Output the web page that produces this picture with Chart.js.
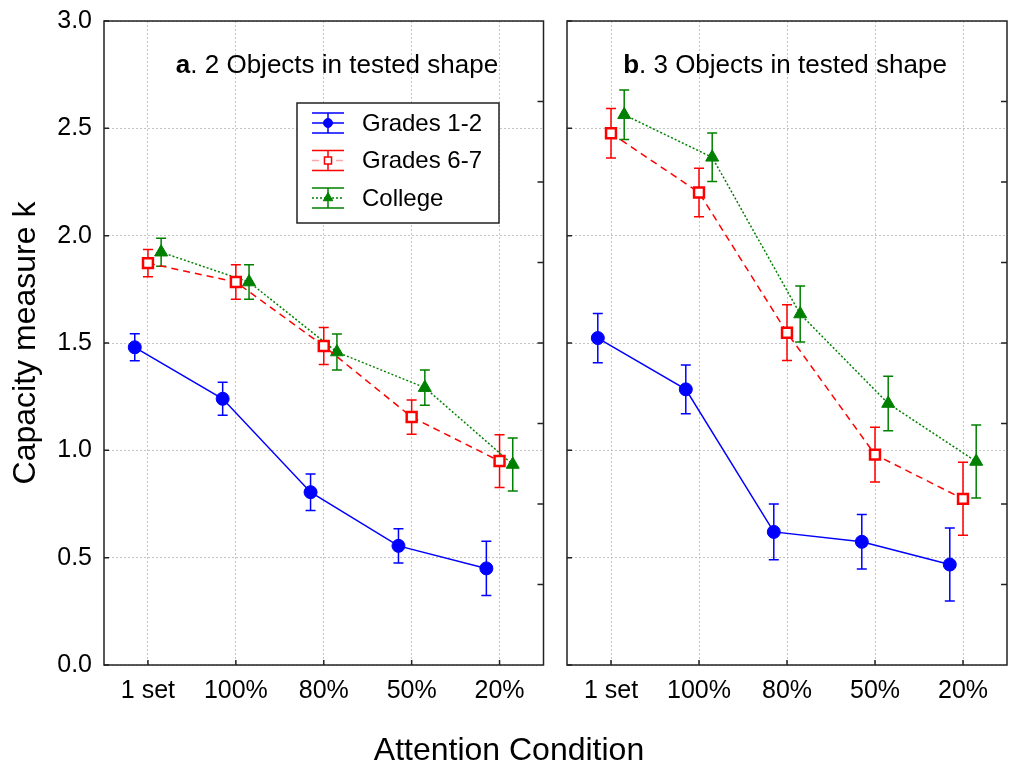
<!DOCTYPE html>
<html>
<head>
<meta charset="utf-8">
<title>Capacity measure k by attention condition</title>
<script src="https://cdn.jsdelivr.net/npm/chart.js@4.4.1/dist/chart.umd.min.js"></script>
<style>
    body { margin: 0; background: #fff; }
    #wrap { position: relative; width: 1028px; height: 765px; font-family: "Liberation Sans", Arial, sans-serif; color: #000; }
    canvas { position: absolute; top: 0; }
    #chartA { left: 0; }
    #chartB { left: 556px; }
    .ptitle { position: absolute; top: 51px; width: 400px; text-align: center; font-size: 26px; line-height: 26px; }
    #xtitle { position: absolute; left: 259px; top: 733px; width: 500px; text-align: center; font-size: 32px; line-height: 32px; }
</style>
</head>
<body>
<div id="wrap">
    <canvas id="chartA" width="553" height="765"></canvas>
    <canvas id="chartB" width="472" height="765"></canvas>
    <div class="ptitle" style="left:137px"><b>a</b>. 2 Objects in tested shape</div>
    <div class="ptitle" style="left:585px"><b>b</b>. 3 Objects in tested shape</div>
    <div id="xtitle">Attention Condition</div>
</div>
<script>
// Categories and tick values
const conditions = ['1 set', '100%', '80%', '50%', '20%'];
const groups = ['Grades 1-2', 'Grades 6-7', 'College'];
const yTicks = [0, 0.5, 1.0, 1.5, 2.0, 2.5, 3.0];
const rightTicks = [0.375, 0.75, 1.125, 1.5, 1.875, 2.25, 2.625];

// Panel a: 2 objects in tested shape (mean and error half-length)
const aGrades12 = [1.48, 1.24, 0.805, 0.555, 0.45];
const aGrades12Err = [0.063, 0.077, 0.085, 0.08, 0.126];
const aGrades67 = [1.872, 1.784, 1.486, 1.155, 0.95];
const aGrades67Err = [0.063, 0.08, 0.086, 0.08, 0.123];
const aCollege = [1.923, 1.784, 1.458, 1.292, 0.934];
const aCollegeErr = [0.065, 0.08, 0.084, 0.082, 0.124];

// Panel b: 3 objects in tested shape
const bGrades12 = [1.523, 1.284, 0.62, 0.574, 0.468];
const bGrades12Err = [0.115, 0.113, 0.13, 0.127, 0.17];
const bGrades67 = [2.477, 2.201, 1.548, 0.98, 0.774];
const bGrades67Err = [0.115, 0.113, 0.13, 0.127, 0.17];
const bCollege = [2.563, 2.365, 1.635, 1.218, 0.948];
const bCollegeErr = [0.115, 0.113, 0.13, 0.127, 0.17];

// Look of each group (shift = horizontal offset in category units)
const styles = [
    { color: '#0000ff', dash: [], pointStyle: 'circle', radius: 6.5, fill: '#0000ff', pointBorder: 1, shift: -0.15 },
    { color: '#ff0000', dash: [7, 5], pointStyle: 'rect', radius: 7, fill: '#ffffff', pointBorder: 2.5, shift: 0 },
    { color: '#008000', dash: [2, 2], pointStyle: 'triangle', radius: 7.5, fill: '#008000', pointBorder: 1, shift: 0.15 }
];

Chart.defaults.font.family = '"Liberation Sans", Arial, sans-serif';
Chart.defaults.color = '#000';

function buildDatasets(values, errors) {
    return values.map((vals, g) => {
        const st = styles[g];
        return {
            label: groups[g],
            data: vals.map((v, i) => ({ x: i + st.shift, y: v })),
            errors: errors[g],
            borderColor: st.color,
            borderWidth: 1.5,
            borderDash: st.dash,
            backgroundColor: st.fill,
            pointStyle: st.pointStyle,
            pointRadius: st.radius,
            pointBackgroundColor: st.fill,
            pointBorderColor: st.color,
            pointBorderWidth: st.pointBorder,
            tension: 0,
            fill: false
        };
    });
}

// Vertical error bars with caps, drawn under the markers
const errorBarPlugin = {
    id: 'errorBars',
    beforeDatasetsDraw(chart) {
        const { ctx } = chart;
        const ys = chart.scales.y;
        chart.data.datasets.forEach((ds, di) => {
            const meta = chart.getDatasetMeta(di);
            ctx.save();
            ctx.strokeStyle = ds.borderColor;
            ctx.lineWidth = 1.5;
            ctx.beginPath();
            meta.data.forEach((pt, i) => {
                const v = ds.data[i].y;
                const e = ds.errors[i];
                const top = ys.getPixelForValue(v + e);
                const bot = ys.getPixelForValue(v - e);
                ctx.moveTo(pt.x, top); ctx.lineTo(pt.x, bot);
                ctx.moveTo(pt.x - 5, top); ctx.lineTo(pt.x + 5, top);
                ctx.moveTo(pt.x - 5, bot); ctx.lineTo(pt.x + 5, bot);
            });
            ctx.stroke();
            ctx.restore();
        });
    }
};

// Plot frame and the short inward tick marks
const framePlugin = {
    id: 'frame',
    beforeDatasetsDraw(chart) {
        const { ctx, chartArea: a, scales } = chart;
        ctx.save();
        ctx.strokeStyle = '#222';
        ctx.lineWidth = 1.5;
        ctx.strokeRect(a.left, a.top, a.right - a.left, a.bottom - a.top);
        ctx.beginPath();
        yTicks.forEach(v => {
            const y = scales.y.getPixelForValue(v);
            ctx.moveTo(a.left, y); ctx.lineTo(a.left + 5, y);
        });
        rightTicks.forEach(v => {
            const y = scales.y.getPixelForValue(v);
            ctx.moveTo(a.right, y); ctx.lineTo(a.right - 6, y);
        });
        conditions.forEach((c, i) => {
            const x = scales.x.getPixelForValue(i);
            ctx.moveTo(x, a.bottom); ctx.lineTo(x, a.bottom - 5);
        });
        ctx.stroke();
        ctx.restore();
    }
};

// Boxed legend inside panel a, with error-bar style icons
const boxLegendPlugin = {
    id: 'boxLegend',
    afterDraw(chart) {
        const { ctx } = chart;
        const box = { x: 297, y: 103, w: 202, h: 120 };
        ctx.save();
        ctx.fillStyle = '#fff';
        ctx.fillRect(box.x, box.y, box.w, box.h);
        ctx.strokeStyle = '#222';
        ctx.lineWidth = 1.5;
        ctx.strokeRect(box.x, box.y, box.w, box.h);
        chart.data.datasets.forEach((ds, i) => {
            const st = styles[i];
            const cy = 123 + i * 37.5;
            const x0 = 312, x1 = 344, cx = 328;
            ctx.strokeStyle = st.color;
            ctx.lineWidth = 1.5;
            ctx.setLineDash([]);
            ctx.beginPath();
            ctx.moveTo(x0, cy - 10); ctx.lineTo(x1, cy - 10);
            ctx.moveTo(x0, cy + 10); ctx.lineTo(x1, cy + 10);
            ctx.moveTo(cx, cy - 10); ctx.lineTo(cx, cy + 10);
            ctx.stroke();
            ctx.setLineDash(st.dash);
            ctx.globalAlpha = i === 1 ? 0.35 : 1;
            ctx.beginPath();
            ctx.moveTo(x0, cy); ctx.lineTo(x1, cy);
            ctx.stroke();
            ctx.globalAlpha = 1;
            ctx.setLineDash([]);
            ctx.fillStyle = st.fill;
            ctx.lineWidth = st.pointBorder === 1 ? 1 : 1.5;
            Chart.helpers.drawPoint(ctx, { pointStyle: st.pointStyle, radius: st.radius - 2, rotation: 0, borderWidth: 1 }, cx, cy);
            ctx.fillStyle = '#000';
            ctx.font = '24px "Liberation Sans", Arial, sans-serif';
            ctx.textBaseline = 'middle';
            ctx.textAlign = 'left';
            ctx.fillText(ds.label, 362, cy + 1);
        });
        ctx.restore();
    }
};

function makeConfig(datasets, showYLabels, yWidth, padRight, withLegend) {
    const gridOpts = { color: '#c4c4c4', lineWidth: 1, drawTicks: false };
    return {
        type: 'line',
        data: { datasets: datasets },
        options: {
            responsive: false,
            animation: false,
            devicePixelRatio: 1,
            layout: { padding: { left: 0, right: padRight, top: 21, bottom: 0 } },
            plugins: {
                legend: { display: false },
                tooltip: { enabled: false }
            },
            scales: {
                x: {
                    type: 'linear',
                    min: -0.5,
                    max: 4.5,
                    afterBuildTicks: s => { s.ticks = conditions.map((c, i) => ({ value: i })); },
                    afterFit: s => { s.height = 100; },
                    ticks: {
                        padding: 11,
                        font: { size: 25 },
                        maxRotation: 0,
                        autoSkip: false,
                        callback: v => conditions[v]
                    },
                    grid: gridOpts,
                    border: { display: false, dash: [2, 2] }
                },
                y: {
                    min: 0,
                    max: 3,
                    afterBuildTicks: s => { s.ticks = yTicks.map(v => ({ value: v })); },
                    afterFit: s => { s.width = yWidth; },
                    ticks: {
                        display: showYLabels,
                        padding: 12,
                        font: { size: 25, lineHeight: 0.6 },
                        callback: v => v.toFixed(1)
                    },
                    grid: gridOpts,
                    border: { display: false, dash: [2, 2] },
                    title: {
                        display: showYLabels,
                        text: 'Capacity measure k',
                        font: { size: 32 },
                        padding: { top: 7 }
                    }
                }
            }
        },
        plugins: withLegend ? [framePlugin, errorBarPlugin, boxLegendPlugin] : [framePlugin, errorBarPlugin]
    };
}

new Chart(document.getElementById('chartA'), makeConfig(
    buildDatasets([aGrades12, aGrades67, aCollege], [aGrades12Err, aGrades67Err, aCollegeErr]),
    true, 104, 8, true
));

new Chart(document.getElementById('chartB'), makeConfig(
    buildDatasets([bGrades12, bGrades67, bCollege], [bGrades12Err, bGrades67Err, bCollegeErr]),
    false, 11, 21, false
));
</script>
</body>
</html>
